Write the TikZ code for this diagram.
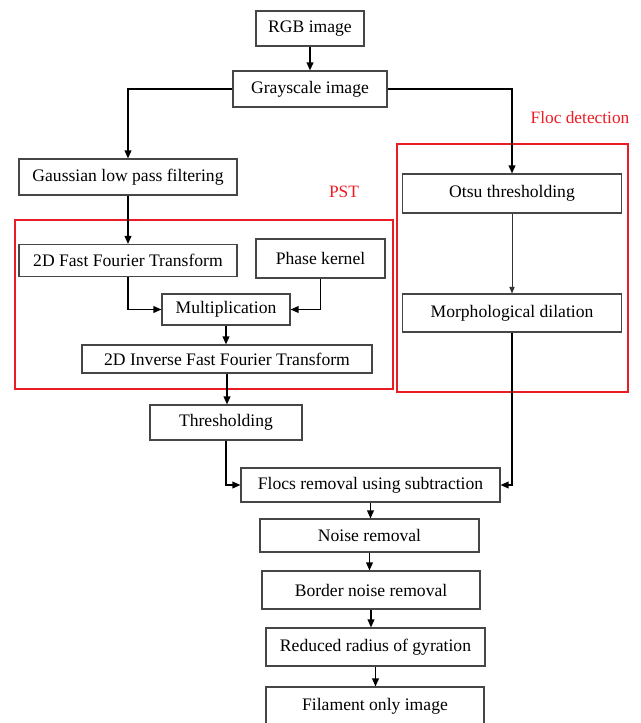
\documentclass[tikz,border=0pt]{standalone}
\usepackage{fontspec}
\setmainfont{Liberation Serif}
\usepackage{tikz}
\usetikzlibrary{arrows.meta}
\definecolor{framered}{RGB}{235, 28, 36}
\definecolor{boxgray}{RGB}{70, 70, 70}
\newcommand{\pxu}{0.75pt}

\begin{document}
\begin{tikzpicture}[
        x=0.75pt, y=-0.75pt,
        stage/.style 2 args={rectangle, draw=boxgray, fill=white, line width=0.8pt, inner sep=0pt, minimum width=#1*\pxu, minimum height=#2*\pxu, align=center, font=\fontsize{13.2}{15}\selectfont},
        group/.style={draw=framered, line width=1.5pt},
        grouplabel/.style={text=framered, font=\fontsize{13}{15}\selectfont},
        arrow/.style={-{Triangle[length=6pt, width=5pt]}, line width=1.1pt, draw=black},
        thinarrow/.style={-{Triangle[length=5pt, width=4pt]}, line width=0.6pt, draw=black!80}
    ]
        \clip (0,0) rectangle (640,723);

        % groups
        \draw[group] (15,220) rectangle (393,389);
        \draw[group] (397,144) rectangle (628,392);
        \node[grouplabel] (pstlabel) at (344,192) {PST};
        \node[grouplabel] (floclabel) at (580,118) {Floc detection};

        % stages
        \node[stage={108}{35}] (rgb) at (310,28.5) {RGB image};
        \node[stage={154}{36}] (gray) at (310,89) {Grayscale image};
        \node[stage={218}{36}] (gauss) at (128,177) {Gaussian low pass filtering};
        \node[stage={219}{39}] (otsu) at (512,193.5) {Otsu thresholding};
        \node[stage={218}{32}] (fft) at (128,260.5) {2D Fast Fourier Transform};
        \node[stage={129}{39}] (phase) at (320.5,258.5) {Phase kernel};
        \node[stage={128}{31}] (mult) at (226,309.5) {Multiplication};
        \node[stage={290}{28}] (ifft) at (227,359) {2D Inverse Fast Fourier Transform};
        \node[stage={219}{38}] (morph) at (512,313) {Morphological dilation};
        \node[stage={152}{35}] (thresh) at (226,422.5) {Thresholding};
        \node[stage={259}{34}] (flocs) at (370.5,485) {Flocs removal using subtraction};
        \node[stage={219}{33}] (noise) at (369.5,535.5) {Noise removal};
        \node[stage={218}{38}] (border) at (371,590) {Border noise removal};
        \node[stage={219}{38}] (gyration) at (375.5,647) {Reduced radius of gyration};
        \node[stage={218}{38}] (filament) at (375,706) {Filament only image};

        % connectors
        \draw[arrow] (rgb) -- (gray);
        \draw[arrow] (gray.west) -| (gauss.north);
        \draw[arrow] (gray.east) -| (otsu.north);
        \draw[arrow] (gauss) -- (fft);
        \draw[arrow] (fft.south) |- (mult.west);
        \draw[arrow] (phase.south) |- (mult.east);
        \draw[arrow] (mult) -- (mult |- ifft.north);
        \draw[arrow] (ifft.south) -- (ifft.south |- thresh.north);
        \draw[thinarrow] (otsu) -- (morph);
        \draw[arrow] (thresh.south) |- (flocs.west);
        \draw[arrow] (morph.south) |- (flocs.east);
        \draw[arrow] (flocs.south) -- (flocs.south |- noise.north);
        \draw[arrow] (noise.south) -- (noise.south |- border.north);
        \draw[arrow] (border.south) -- (border.south |- gyration.north);
        \draw[arrow] (gyration.south) -- (gyration.south |- filament.north);
    \end{tikzpicture}
\end{document}
